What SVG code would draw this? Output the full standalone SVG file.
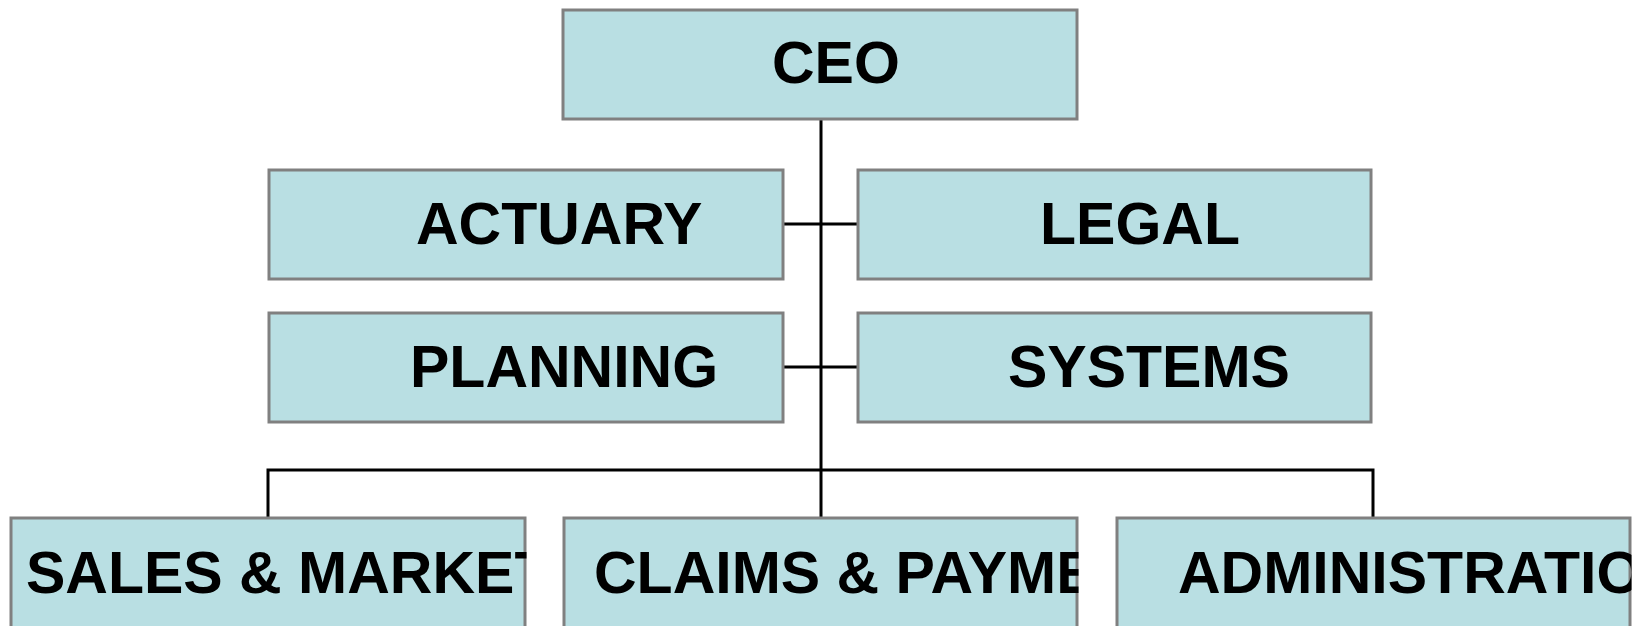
<svg xmlns="http://www.w3.org/2000/svg" width="1636" height="626" viewBox="0 0 1636 626">
  <style>
    .box { fill: #b9dfe3; stroke: #808080; stroke-width: 3; }
    .lbl { font-family: "Liberation Sans", Arial, sans-serif; font-weight: bold; font-size: 59px; fill: #000; }
    .wire { fill: none; stroke: #000; stroke-width: 3; }
  </style>
  <defs>
    <clipPath id="clip-sales"><rect x="0" y="500" width="526.5" height="126"/></clipPath>
    <clipPath id="clip-claims"><rect x="550" y="500" width="528.5" height="126"/></clipPath>
    <clipPath id="clip-admin"><rect x="1100" y="500" width="531.5" height="126"/></clipPath>
  </defs>
  <rect width="1636" height="626" fill="#fff"/>

  <!-- reporting lines -->
  <g id="connectors">
    <line class="wire" x1="821" y1="119" x2="821" y2="518"/>
    <line class="wire" x1="783" y1="224" x2="858" y2="224"/>
    <line class="wire" x1="783" y1="367" x2="858" y2="367"/>
    <polyline class="wire" points="268,518 268,470 1373,470 1373,518"/>
  </g>

  <g id="ceo">
    <rect class="box" x="563" y="10" width="514" height="109"/>
    <text class="lbl" x="772" y="83">CEO</text>
  </g>
  <g id="actuary">
    <rect class="box" x="269" y="170" width="514" height="109"/>
    <text class="lbl" x="416" y="244">ACTUARY</text>
  </g>
  <g id="legal">
    <rect class="box" x="858" y="170" width="513" height="109"/>
    <text class="lbl" x="1040" y="244">LEGAL</text>
  </g>
  <g id="planning">
    <rect class="box" x="269" y="313" width="514" height="109"/>
    <text class="lbl" x="410" y="387">PLANNING</text>
  </g>
  <g id="systems">
    <rect class="box" x="858" y="313" width="513" height="109"/>
    <text class="lbl" x="1008" y="387">SYSTEMS</text>
  </g>
  <g id="sales">
    <rect class="box" x="11" y="518" width="514" height="120"/>
    <text class="lbl" x="26" y="593" clip-path="url(#clip-sales)">SALES &amp; MARKETING</text>
  </g>
  <g id="claims">
    <rect class="box" x="564" y="518" width="513" height="120"/>
    <text class="lbl" x="594" y="593" clip-path="url(#clip-claims)">CLAIMS &amp; PAYMENTS</text>
  </g>
  <g id="administration">
    <rect class="box" x="1117" y="518" width="513" height="120"/>
    <text class="lbl" x="1178" y="593" clip-path="url(#clip-admin)">ADMINISTRATION</text>
  </g>
</svg>
